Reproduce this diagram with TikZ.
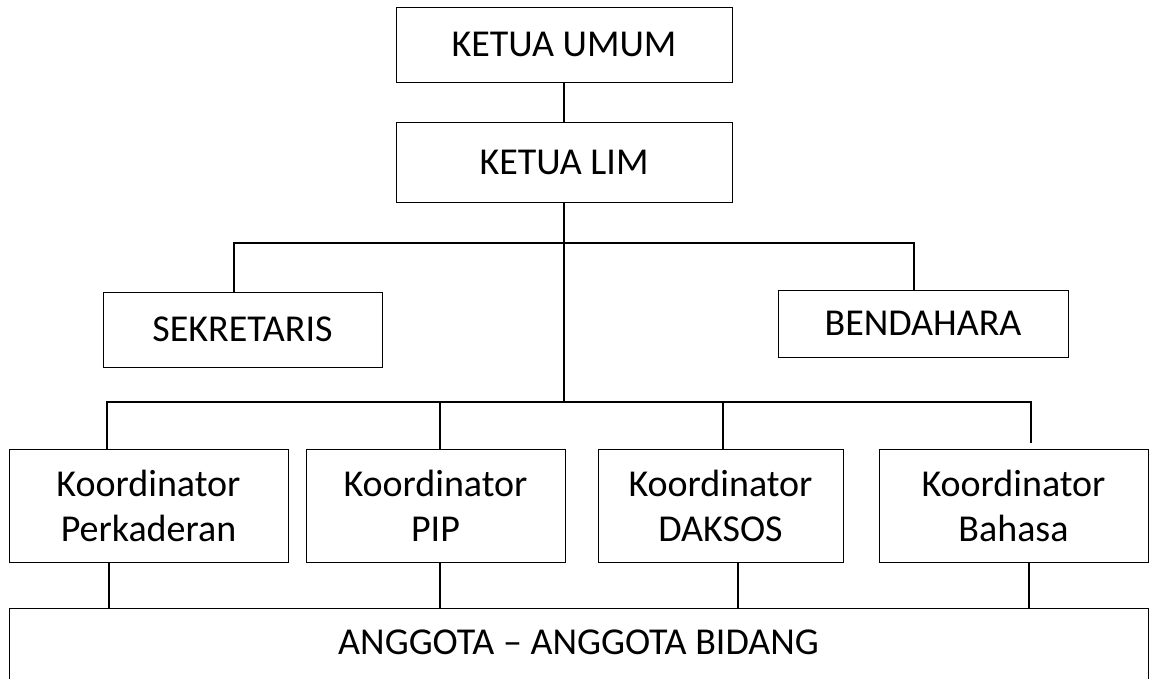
\documentclass[tikz,border=0pt]{standalone}
\usepackage{fontspec}
\setmainfont{Carlito}

\begin{document}
\begin{tikzpicture}[x=1pt, y=-1pt]
    \tikzstyle{jabatan} = [rectangle, draw, line width=1pt, inner sep=0pt, align=center, font=\fontsize{38}{45}\selectfont]
    \tikzstyle{garis} = [line width=1.6pt]
    \useasboundingbox (0,0) rectangle (1149,678);
    \clip (0,0) rectangle (1149,678);
    % pimpinan
    \node[jabatan, minimum width=336, minimum height=75] (umum) at (564,44.5) {KETUA UMUM};
    \node[jabatan, minimum width=336, minimum height=80] (lim) at (564,162) {KETUA LIM};
    \node[jabatan, minimum width=279, minimum height=75] (sekre) at (242.5,329.5) {SEKRETARIS};
    \node[jabatan, minimum width=290, minimum height=67] (benda) at (923,323.5) {BENDAHARA};
    % koordinator bidang
    \node[jabatan, minimum width=279, minimum height=113] (perk) at (148.5,505.5) {Koordinator\\Perkaderan};
    \node[jabatan, minimum width=259, minimum height=113] (pip) at (435.5,505.5) {Koordinator\\PIP};
    \node[jabatan, minimum width=245, minimum height=113] (daksos) at (720.5,505.5) {Koordinator\\DAKSOS};
    \node[jabatan, minimum width=269, minimum height=113] (bahasa) at (1013.5,505.5) {Koordinator\\Bahasa};
    \node[jabatan, minimum width=1139, minimum height=90, anchor=north, text height=24pt, text depth=22pt] (anggota) at (578.5,608) {ANGGOTA -- ANGGOTA BIDANG};
    % garis
    \coordinate (busA) at (564,243);
    \coordinate (busB) at (564,402);
    \draw[garis] (umum.south) -- (lim.north);
    \draw[garis] (lim.south) -- (busB);
    \draw[garis] ([xshift=-8.5pt]sekre.north) |- (busA) -| ([xshift=-9pt]benda.north);
    \draw[garis] ([xshift=-41.5pt]perk.north) |- (busB) -| ([xshift=17.5pt, yshift=6pt]bahasa.north);
    \foreach \n/\dx in {pip/4.5, daksos/2.5} {
        \draw[garis] ([xshift=\dx pt]\n.north) -- ([xshift=\dx pt]\n.north |- busB);
    }
    \foreach \n/\dx in {perk/-39.5, pip/4.5, daksos/17.5, bahasa/15.5} {
        \draw[garis] ([xshift=\dx pt]\n.south) -- ([xshift=\dx pt]\n.south |- anggota.north);
    }
\end{tikzpicture}
\end{document}
